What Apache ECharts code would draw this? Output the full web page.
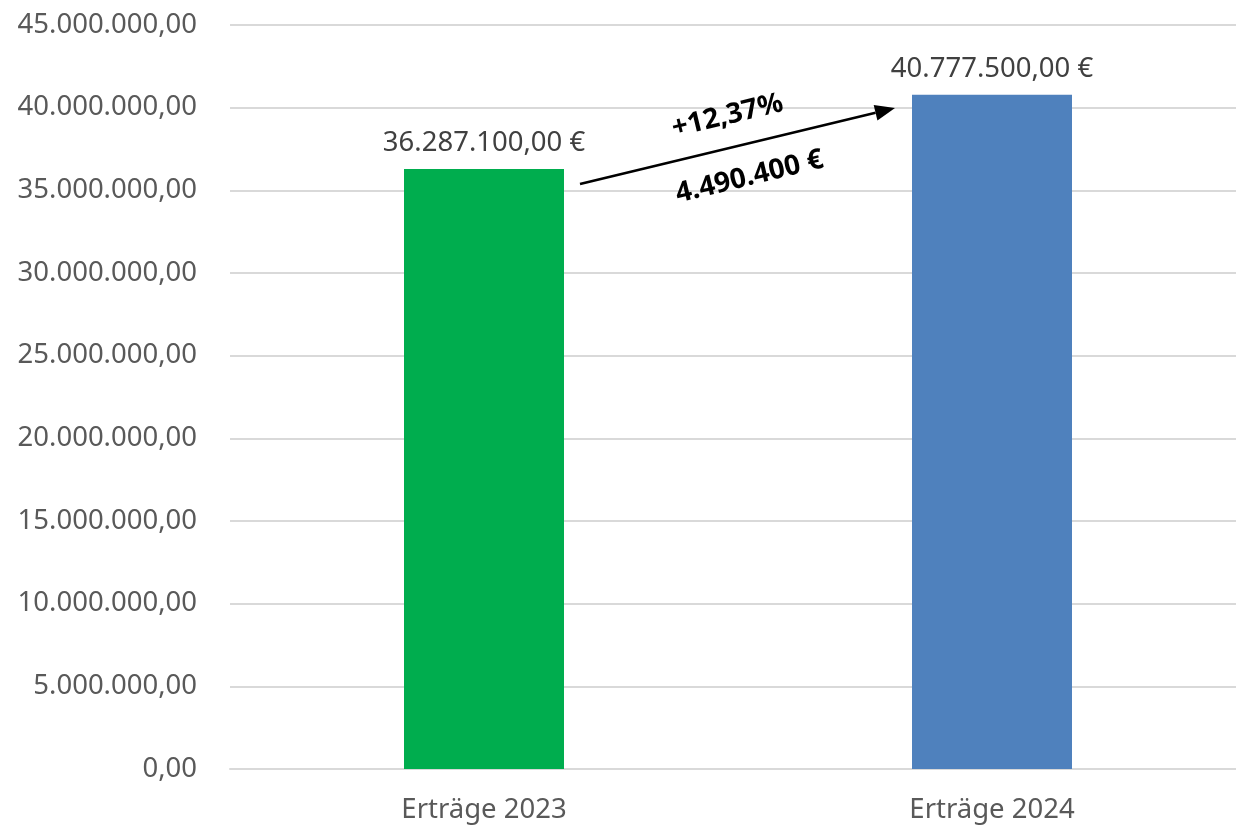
<!DOCTYPE html>
<html>
<head>
<meta charset="utf-8">
<script src="https://cdn.jsdelivr.net/npm/echarts@6/dist/echarts.min.js"></script>
<style>
  html, body { margin: 0; padding: 0; background: #fff; }
  #chart { width: 1236px; height: 826px; }
</style>
</head>
<body>
<div id="chart"></div>
<script>
const categories = ['Erträge 2023', 'Erträge 2024'];
const values = [36287100, 40777500];
const barColors = ['#00AD4E', '#4F81BD'];
const changePct = '+12,37%';
const changeAbs = '4.490.400 €';
// arrow ends, in data values (category index, value)
const arrowFrom = [0, 35380000];
const arrowTo = [1, 39980000];

const fmt = v => v.toLocaleString('de-DE', {minimumFractionDigits: 2, maximumFractionDigits: 2});
const font = '"Noto Sans", sans-serif';

const chart = echarts.init(document.getElementById('chart'));
chart.setOption({
  animation: false,
  grid: {left: 230, width: 1016, top: 25, bottom: 57, outerBoundsMode: 'none'},
  xAxis: {
    type: 'category',
    data: categories,
    axisLine: {lineStyle: {color: '#D9D9D9', width: 2}},
    axisTick: {show: false},
    axisLabel: {color: '#595959', fontSize: 27.5, fontFamily: font, margin: 27}
  },
  yAxis: {
    type: 'value',
    min: 0,
    max: 45000000,
    interval: 5000000,
    axisLabel: {color: '#595959', fontSize: 27.5, fontFamily: font, margin: 33, formatter: fmt},
    splitLine: {lineStyle: {color: '#D9D9D9', width: 2}}
  },
  series: [{
    type: 'bar',
    barWidth: 160,
    data: values.map((v, i) => ({value: v, itemStyle: {color: barColors[i]}})),
    label: {
      show: true,
      position: 'top',
      distance: 12,
      color: '#404040',
      fontSize: 27.5,
      fontFamily: font,
      formatter: p => fmt(p.value) + ' €'
    }
  }]
});

// arrow annotation between the bars
const p0 = chart.convertToPixel({seriesIndex: 0}, arrowFrom);
const p1 = chart.convertToPixel({seriesIndex: 0}, arrowTo);
const x0 = p0[0] + 80 + 16, y0 = p0[1];
const x1 = p1[0] - 80 - 17, y1 = p1[1];
const ang = Math.atan2(y0 - y1, x1 - x0);
const mx = (x0 + x1) / 2, my = (y0 + y1) / 2;
const head = 20, hw = 8;
const ux = Math.cos(ang), uy = -Math.sin(ang);
const bx = x1 - ux * head, by = y1 - uy * head;
const boldFont = 'bold 28px "Noto Sans", sans-serif';
chart.setOption({
  graphic: [
    {type: 'line', shape: {x1: x0, y1: y0, x2: bx, y2: by}, style: {stroke: '#000', lineWidth: 2.5}},
    {type: 'polygon', shape: {points: [[x1, y1], [bx - uy * hw, by + ux * hw], [bx + uy * hw, by - ux * hw]]}, style: {fill: '#000'}},
    {type: 'text', x: mx - 10, y: my - 30, rotation: ang,
      style: {text: changePct, fill: '#000', font: boldFont, align: 'center', verticalAlign: 'middle'}},
    {type: 'text', x: mx + 12, y: my + 31, rotation: ang,
      style: {text: changeAbs, fill: '#000', font: boldFont, align: 'center', verticalAlign: 'middle'}}
  ]
});
</script>
</body>
</html>
